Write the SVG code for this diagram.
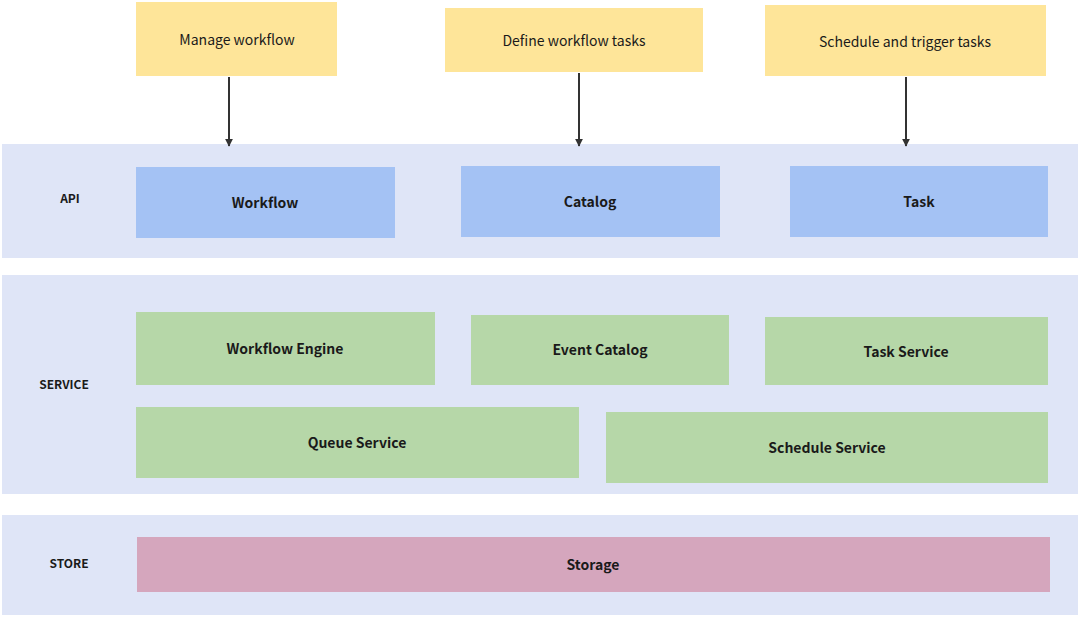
<svg xmlns="http://www.w3.org/2000/svg" width="1080" height="617" viewBox="0 0 1080 617">
<defs>
<style>
.band{fill:#dfe5f7}
.y{fill:#fee599}.b{fill:#a4c2f4}.g{fill:#b6d7a8}.p{fill:#d5a6bd}
text{font-family:"Noto Sans CJK JP","Noto Sans",sans-serif;font-size:14px;fill:#1a1a1a;text-anchor:middle;dominant-baseline:central}
.bold{font-weight:bold;font-size:14px}
.lay{font-weight:bold;font-size:12px}
.c{stroke:#333;stroke-width:2;fill:none;marker-end:url(#ah)}
</style>
<marker id="ah" viewBox="0 0 10 10" refX="9" refY="5" markerWidth="4" markerHeight="4" orient="auto"><path d="M0,0L10,5L0,10z" fill="#333"/></marker>
</defs>
<rect width="1080" height="617" fill="#fff"/>
<g id="band-api"><rect class="band" x="2" y="144" width="1076" height="114"/><text class="lay" x="70" y="197">API</text></g>
<g id="band-service"><rect class="band" x="2" y="275" width="1076" height="219"/><text class="lay" x="64" y="383">SERVICE</text></g>
<g id="band-store"><rect class="band" x="2" y="515" width="1076" height="100"/><text class="lay" x="69" y="562">STORE</text></g>
<g id="manage"><rect class="y" x="136" y="2" width="201" height="74"/><text x="237" y="39">Manage workflow</text></g>
<g id="define"><rect class="y" x="445" y="8" width="258" height="64"/><text x="574" y="40">Define workflow tasks</text></g>
<g id="schedule"><rect class="y" x="765" y="5" width="281" height="71"/><text x="905" y="41">Schedule and trigger tasks</text></g>
<g id="workflow"><rect class="b" x="136" y="167" width="259" height="71"/><text class="bold" x="265" y="202">Workflow</text></g>
<g id="catalog"><rect class="b" x="461" y="166" width="259" height="71"/><text class="bold" x="590" y="201">Catalog</text></g>
<g id="task"><rect class="b" x="790" y="166" width="258" height="71"/><text class="bold" x="919" y="201">Task</text></g>
<g id="engine"><rect class="g" x="136" y="312" width="299" height="73"/><text class="bold" x="285" y="348">Workflow Engine</text></g>
<g id="eventcatalog"><rect class="g" x="471" y="315" width="258" height="70"/><text class="bold" x="600" y="349">Event Catalog</text></g>
<g id="taskservice"><rect class="g" x="765" y="317" width="283" height="68"/><text class="bold" x="906" y="351">Task Service</text></g>
<g id="queue"><rect class="g" x="136" y="407" width="443" height="71"/><text class="bold" x="357" y="442">Queue Service</text></g>
<g id="scheduleservice"><rect class="g" x="606" y="412" width="442" height="71"/><text class="bold" x="827" y="447">Schedule Service</text></g>
<g id="storage"><rect class="p" x="137" y="537" width="913" height="55"/><text class="bold" x="593" y="564">Storage</text></g>
<g id="connectors">
<line class="c" x1="229" y1="77" x2="229" y2="146"/>
<line class="c" x1="579" y1="73" x2="579" y2="146"/>
<line class="c" x1="906" y1="77" x2="906" y2="146"/>
</g>
</svg>
